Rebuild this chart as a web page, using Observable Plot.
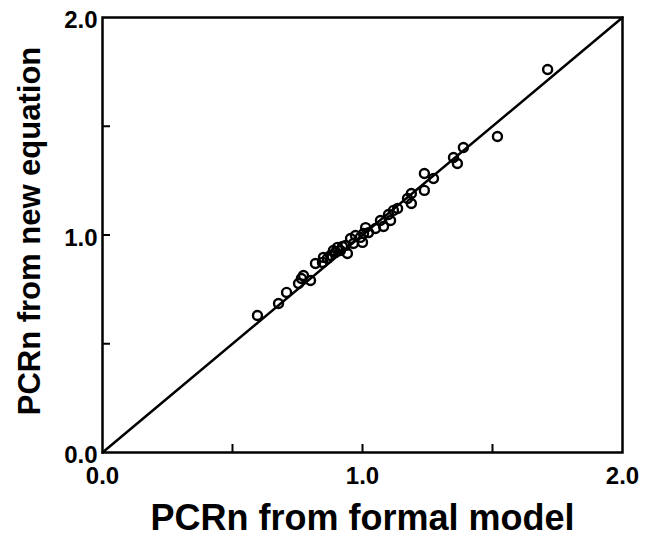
<!DOCTYPE html>
<html>
<head>
<meta charset="utf-8">
<script src="https://cdn.jsdelivr.net/npm/d3@7"></script>
<script src="https://cdn.jsdelivr.net/npm/@observablehq/plot@0.6"></script>
<style>
  html, body { margin: 0; padding: 0; background: #fff; }
  #chart svg { display: block; }
</style>
</head>
<body>
<div id="chart"></div>
<script>
// PCRn from formal model (x) vs PCRn from new equation (y)
const formalModel = [0.596, 0.677, 0.708, 0.754, 0.773, 0.800, 0.819, 0.850, 0.865, 0.877,
  0.904, 0.915, 0.935, 0.942, 0.954, 0.965, 0.973, 0.992, 1.000, 1.004,
  1.012, 1.023, 1.050, 1.069, 1.081, 1.100, 1.119, 1.135, 1.173, 1.188,
  1.188, 1.238, 1.273, 1.238, 1.350, 1.365, 1.388, 1.519, 1.712, 0.888,
  0.846, 0.765, 1.108, 0.896, 0.923];
const newEquation = [0.630, 0.685, 0.736, 0.777, 0.814, 0.791, 0.869, 0.897, 0.892, 0.906,
  0.943, 0.929, 0.952, 0.915, 0.984, 0.961, 0.998, 0.989, 0.966, 1.007,
  1.034, 1.011, 1.030, 1.067, 1.039, 1.094, 1.113, 1.122, 1.168, 1.191,
  1.145, 1.283, 1.260, 1.205, 1.356, 1.329, 1.402, 1.453, 1.761, 0.929,
  0.874, 0.800, 1.067, 0.920, 0.947];
const identityLine = [0, 2];
const labelTicks = [0, 1, 2];
const minorTicks = [0.5, 1, 1.5];
const xTitle = "PCRn from formal model";
const yTitle = "PCRn from new equation";

const points = formalModel.map((x, i) => ({x, y: newEquation[i]}));
const lineData = identityLine.map(v => ({x: v, y: v}));
const fmt = d3.format(".1f");
const blank = () => "";
const font = "'Liberation Sans', Arial, Helvetica, sans-serif";

const chart = Plot.plot({
  width: 647,
  height: 546,
  marginLeft: 102,
  marginRight: 25,
  marginTop: 17,
  marginBottom: 94,
  style: {fontFamily: font, fontWeight: "bold", color: "#000", background: "#fff"},
  x: {domain: [0, 2]},
  y: {domain: [0, 2]},
  marks: [
    Plot.frame({stroke: "#000", strokeWidth: 2.5}),
    Plot.axisX(minorTicks, {tickSize: -8, strokeWidth: 2, tickFormat: blank, label: null}),
    Plot.axisY(minorTicks, {tickSize: -8, strokeWidth: 2, tickFormat: blank, label: null}),
    Plot.text(labelTicks, {x: d => d, frameAnchor: "bottom", lineAnchor: "top", dy: 14, text: fmt, fontSize: 24, fontWeight: "bold", fill: "#000"}),
    Plot.text(labelTicks, {y: d => d, frameAnchor: "left", textAnchor: "end", dx: -5, dy: 3, text: fmt, fontSize: 24, fontWeight: "bold", fill: "#000"}),
    Plot.line(lineData, {x: "x", y: "y", stroke: "#000", strokeWidth: 2.5}),
    Plot.dot(points, {x: "x", y: "y", r: 4.5, stroke: "#000", strokeWidth: 2.4, fill: "none"}),
    Plot.text([xTitle], {frameAnchor: "bottom", dy: 77, fontSize: 36, fontWeight: "bold", fill: "#000"}),
    Plot.text([yTitle], {frameAnchor: "left", dx: -72, dy: -4, rotate: -90, textAnchor: "middle", fontSize: 31, fontWeight: "bold", fill: "#000"})
  ]
});
document.getElementById("chart").appendChild(chart);
</script>
</body>
</html>
